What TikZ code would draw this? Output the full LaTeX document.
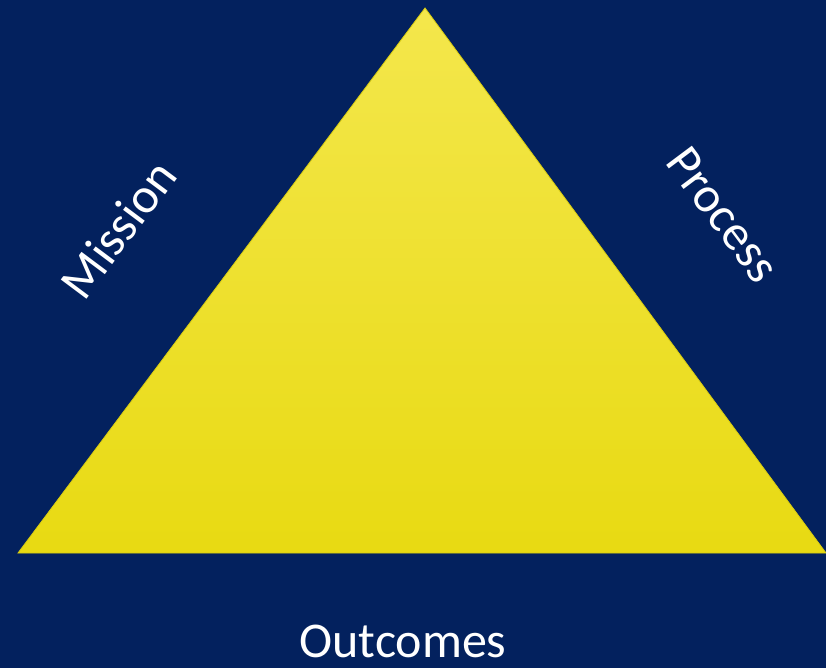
\documentclass[tikz,border=0pt]{standalone}
\usepackage{fontspec}
\setmainfont{Carlito}
\usepackage{xcolor}
\usetikzlibrary{positioning}
\definecolor{navy}{HTML}{03215E}
\definecolor{yelTop}{HTML}{F4E74C}
\definecolor{yelMid}{HTML}{FCF01A}
\definecolor{yelBot}{HTML}{E8DA12}
\definecolor{yelEdge}{HTML}{D9CC10}

\begin{document}
\begin{tikzpicture}[
        x=1pt, y=-1pt,
        every node/.style={text=white, font=\fontsize{50}{56}\selectfont, inner sep=0pt},
        side/.style={anchor=center}
    ]
        % Background
        \fill[navy] (0,0) rectangle (826,668);
        \useasboundingbox (0,0) rectangle (826,668);

        % Corners of the triangle
        \coordinate (top) at (425,8);
        \coordinate (left) at (18,553);
        \coordinate (right) at (826,553);

        % Triangle
        \shade[top color=yelTop, middle color=yelMid, bottom color=yelBot, draw=yelEdge, line width=0.8pt]
            (top) -- (right) -- (left) -- cycle;

        % Labels
        \node[side, rotate=53.2] (mission) at (118,229) {Mission};
        \node[side, rotate=-53.2] (process) at (723,215) {Process};
        \node (outcomes) at (403,641) {Outcomes};
    \end{tikzpicture}
\end{document}
